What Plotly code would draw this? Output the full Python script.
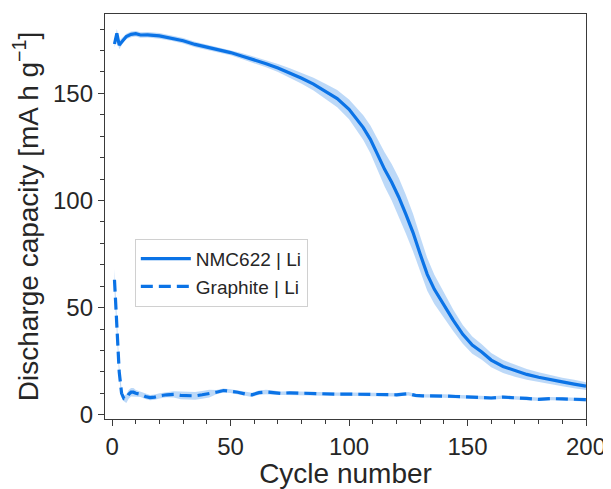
import plotly.graph_objects as go

# ---- data ----
nmc_cycles = [1, 2, 3, 4, 5, 6, 8, 10, 12, 15, 20, 25, 30, 35, 40, 45, 50, 55, 60, 65, 70, 75, 80,
              85, 90, 95, 100, 103, 106, 109, 112, 115, 118, 121, 124, 127, 130, 133, 136, 140,
              144, 148, 152, 156, 160, 165, 170, 175, 180, 185, 190, 195, 200]
nmc_capacity = [173, 178, 172.5, 174, 175.5, 176.5, 177.5, 177.8, 177.2, 177.3, 176.8, 175.8, 174.5,
                172.8, 171.5, 170.3, 169, 167.3, 165.6, 163.8, 161.8, 159.5, 157, 154.3, 151, 147.5,
                142.5, 138.5, 134, 128.5, 121.5, 114.5, 108.5, 101.5, 93.5, 85, 75, 65.5, 58.5, 51,
                44, 37.5, 32.5, 29.3, 25.5, 22.5, 20.5, 18.8, 17.5, 16.3, 15.3, 14.3, 13.3]
nmc_std = [1.5, 2, 2, 1.5, 1.3, 1.3, 1.3, 1.3, 1.3, 1.3, 1.3, 1.3, 1.3, 1.3, 1.3, 1.3, 1.3, 1.4, 1.5,
           1.7, 1.9, 2.2, 2.6, 3, 3.4, 4, 4.6, 5.2, 5.8, 6.5, 7.2, 8, 8.5, 9, 9, 8.8, 8.3, 7.6, 6.8, 5.8,
           5, 4.4, 4, 3.6, 3.3, 3, 2.8, 2.5, 2.3, 2.2, 2, 2, 1.8]

gr_cycles = [1, 2, 3, 4, 5, 6, 7, 8, 9, 10, 12, 14, 16, 18, 20, 23, 26, 29, 32, 35, 38, 41, 44, 47,
             50, 53, 56, 59, 62, 65, 68, 71, 75, 80, 85, 90, 95, 100, 105, 110, 115, 120, 125, 128,
             131, 135, 140, 145, 150, 155, 160, 165, 170, 175, 180, 185, 190, 195, 200]
gr_capacity = [63, 42, 20, 10, 7.5, 7.5, 9.5, 10.5, 10.5, 10, 9.5, 8.5, 8, 8.2, 8.8, 9.3, 9.5, 9, 8.8,
               8.8, 9.3, 9.8, 10.5, 11.3, 11, 10.5, 9.7, 9.3, 10.3, 10.6, 10.3, 10, 10.2, 10, 9.8,
               9.6, 9.6, 9.6, 9.5, 9.6, 9.5, 9.3, 9.8, 9, 8.8, 8.6, 8.7, 8.5, 8.2, 8, 7.8, 8.2, 8,
               7.6, 7.2, 7.5, 7.4, 7.2, 7]
gr_std = [5, 4, 3, 2, 1.2, 2, 2, 2, 2, 1.5, 1.2, 1.2, 1.2, 1.2, 1.2, 1.2, 1.5, 1.8, 1.8, 1.8, 1.8,
          1.8, 1.0, 0.9, 0.9, 0.9, 0.9, 1.0, 1.0, 1.0, 1.0, 0.8, 0.8, 0.8, 0.8, 0.8, 0.8, 0.8, 0.8,
          0.8, 0.8, 0.8, 0.8, 0.8, 0.8, 0.8, 0.8, 0.8, 0.8, 0.8, 0.8, 0.8, 0.8, 0.8, 0.8, 0.8, 0.8,
          0.8, 0.8]

series_names = ["NMC622 | Li", "Graphite | Li"]
x_ticks = [0, 50, 100, 150, 200]
y_ticks = [0, 50, 100, 150]

LINE = "#0b73e6"
BAND = "rgba(11,115,230,0.27)"
FONT = "Liberation Sans, Arial, sans-serif"
TXT = "#262626"

fig = go.Figure()


def add_series(cyc, cap, std, name, dash):
    upper = [c + s for c, s in zip(cap, std)]
    lower = [c - s for c, s in zip(cap, std)]
    fig.add_trace(go.Scatter(x=cyc, y=upper, mode="lines", line=dict(width=0, color=BAND),
                             showlegend=False, hoverinfo="skip"))
    fig.add_trace(go.Scatter(x=cyc, y=lower, mode="lines", line=dict(width=0, color=BAND),
                             fill="tonexty", fillcolor=BAND, showlegend=False, hoverinfo="skip"))
    fig.add_trace(go.Scatter(x=cyc, y=cap, mode="lines", name=name,
                             line=dict(color=LINE, width=3.2, dash=dash)))


add_series(nmc_cycles, nmc_capacity, nmc_std, series_names[0], "solid")
add_series(gr_cycles, gr_capacity, gr_std, series_names[1], "12px,6px")

axis_common = dict(
    showline=True, linecolor="#3a3a3a", linewidth=1.3, mirror=True,
    ticks="outside", ticklen=6, tickwidth=1.3, tickcolor="#3a3a3a",
    showgrid=False, zeroline=False,
    tickfont=dict(family=FONT, size=24, color=TXT),
    minor=dict(ticks="outside", ticklen=3.5, tickwidth=1, tickcolor="#3a3a3a", dtick=10, showgrid=False),
)

# page body has an 8px default margin: figure is sized/offset to compensate
fig.update_layout(
    width=603, height=481,
    margin=dict(l=97, r=21, t=5, b=68),
    paper_bgcolor="white", plot_bgcolor="white",
    font=dict(family=FONT, color=TXT),
    showlegend=True,
    legend=dict(x=0.062, y=0.445, xanchor="left", yanchor="top", traceorder="normal",
                bgcolor="rgba(255,255,255,0.85)", bordercolor="#d0d0d0", borderwidth=1,
                font=dict(family=FONT, size=19, color=TXT),
                tracegroupgap=0, itemwidth=50),
    xaxis=dict(range=[-3, 200], tickvals=x_ticks,
               title=dict(text="Cycle number", font=dict(family=FONT, size=28, color=TXT), standoff=4),
               **axis_common),
    yaxis=dict(range=[-2, 187], tickvals=y_ticks,
               title=dict(text="Discharge capacity [mA h g<sup>−1</sup>]",
                          font=dict(family=FONT, size=28, color=TXT), standoff=10),
               **axis_common),
)

fig.write_html("out.html")
